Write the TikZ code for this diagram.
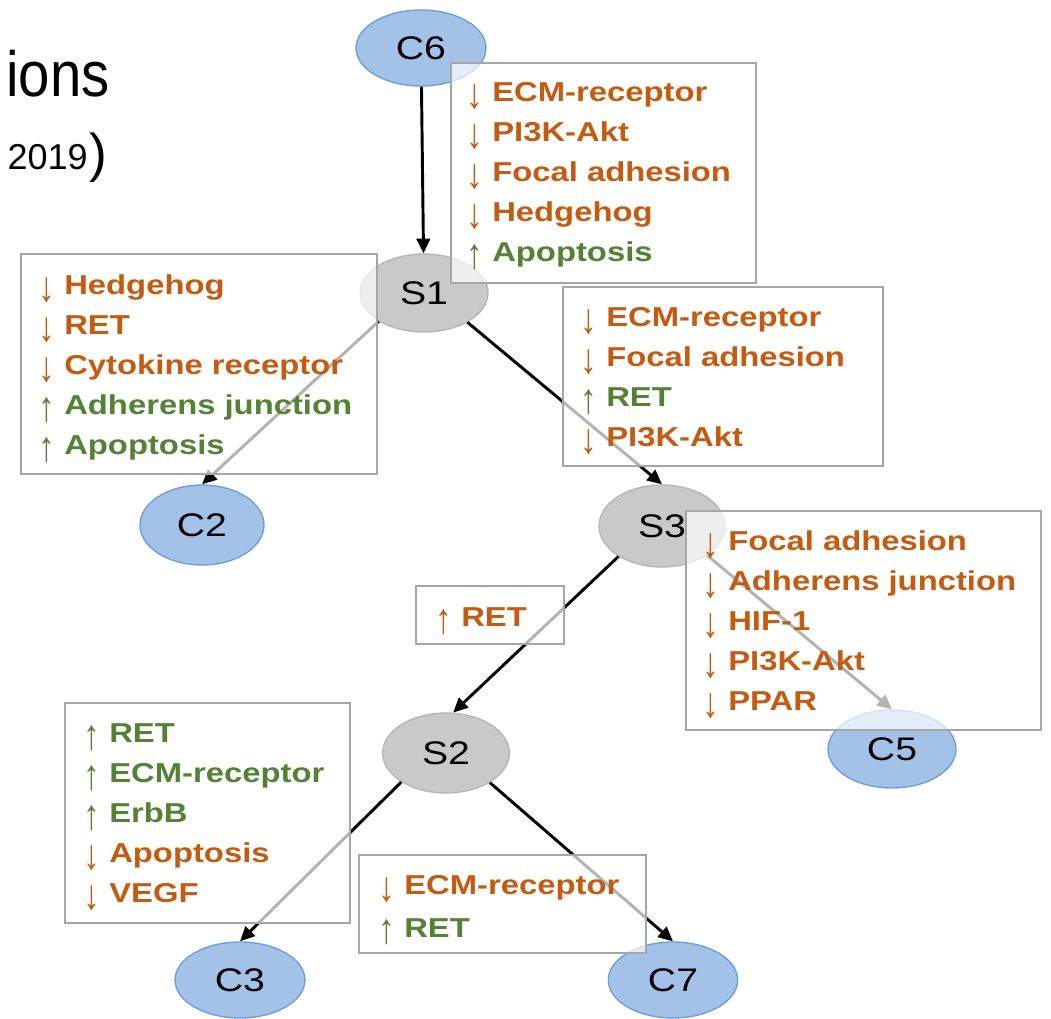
\documentclass[tikz,border=0pt]{standalone}
\usepackage{fontspec}
\usepackage{graphicx}
\setmainfont{Liberation Sans}
\newfontfamily\stfont{Liberation Sans}[FakeStretch=1.2]
\newfontfamily\narrowfont{Liberation Sans}[FakeStretch=0.88]
\usetikzlibrary{shapes.geometric,arrows.meta}
\definecolor{orng}{HTML}{C55A11}
\definecolor{grn}{HTML}{548235}
\definecolor{bluefill}{HTML}{A4C2E8}
\definecolor{blueline}{HTML}{6A9ED8}
\definecolor{grayfill}{HTML}{C9C9C9}
\definecolor{grayline}{HTML}{B5B5B5}
\definecolor{boxline}{HTML}{A6A6A6}
\tikzset{
 ell/.style={ellipse, inner sep=0pt, font=\stfont\fontsize{24.5}{28}\selectfont},
 cnode/.style={ell, fill=bluefill, draw=blueline, line width=1pt},
 snode/.style={ell, fill=grayfill, draw=grayline, line width=1pt},
 conn/.style={line width=2.2pt, -{Triangle[length=11pt,width=10pt]}},
 infobox/.style={rectangle, draw=boxline, line width=1.6pt, fill=white, fill opacity=0.7, inner sep=0pt, anchor=north west},
 lbl/.style={anchor=base west, inner sep=0pt, font=\stfont\fontsize{20.5}{24}\selectfont\bfseries},
 dn/.style={lbl, text=orng},
 up/.style={lbl, text=grn},
}
\newcommand{\arrowglyph}[1]{\makebox[19.5pt][l]{\raisebox{-5pt}{\scalebox{0.95}[1.45]{\fontsize{22}{24}\selectfont\mdseries\char"#1}}}}
\newcommand{\dar}{\arrowglyph{2193}}
\newcommand{\uar}{\arrowglyph{2191}}
\begin{document}
\begin{tikzpicture}[x=0.75pt,y=-0.75pt]
\clip (0,0) rectangle (1051,1019);
\useasboundingbox (0,0) rectangle (1051,1019);
% title fragments
\node[anchor=base east, inner sep=0pt, font=\narrowfont\fontsize{48}{50}\selectfont] (title) at (110,97) {ions};
\node[anchor=base east, inner sep=0pt, font=\fontsize{27}{30}\selectfont] (year) at (88,170) {2019};
\node[anchor=base east, inner sep=0pt, font=\fontsize{40}{44}\selectfont] (paren) at (108,172) {)};
% ellipses
\node[cnode, minimum width=97.5pt, minimum height=57pt] (C6) at (421,48) {C6};
\node[snode, minimum width=96pt, minimum height=58.5pt] (S1) at (424,293) {S1};
\node[cnode, minimum width=93pt, minimum height=60pt] (C2) at (202,525) {C2};
\node[snode, minimum width=94.5pt, minimum height=61.5pt] (S3) at (662,526) {S3};
\node[cnode, minimum width=96pt, minimum height=58.5pt] (C5) at (892,749) {C5};
\node[snode, minimum width=95pt, minimum height=60pt] (S2) at (446,753) {S2};
\node[cnode, minimum width=97.5pt, minimum height=57pt] (C3) at (240,980) {C3};
\node[cnode, minimum width=97pt, minimum height=57pt] (C7) at (673,980) {C7};
% connectors
\draw[conn] (C6) -- (S1);
\draw[conn] (S1.212) -- (C2.north);
\draw[conn] (S1.326) -- (S3.north);
\draw[conn] (S3.215) -- (S2.80);
\draw[conn] (S3.327) -- (C5.north);
\draw[conn] (S2.213) -- (C3.north);
\draw[conn] (S2.326) -- (C7.north);
% boxes
\node[infobox, minimum width=228.75pt, minimum height=165pt] (B1) at (450,62) {};
\node[infobox, minimum width=267pt, minimum height=165pt] (B2) at (20,253) {};
\node[infobox, minimum width=240pt, minimum height=134.25pt] (B3) at (562,286) {};
\node[infobox, minimum width=111pt, minimum height=43.5pt] (B4) at (415,585) {};
\node[infobox, minimum width=266.25pt, minimum height=164.25pt] (B5) at (685,510) {};
\node[infobox, minimum width=213.75pt, minimum height=165pt] (B6) at (64,702) {};
\node[infobox, minimum width=215.25pt, minimum height=73.5pt] (B7) at (358,854) {};
% box 1
\node[dn] (b1a) at (466,102) {\dar ECM-receptor};
\node[dn] (b1b) at (466,142) {\dar PI3K-Akt};
\node[dn] (b1c) at (466,182) {\dar Focal adhesion};
\node[dn] (b1d) at (466,222) {\dar Hedgehog};
\node[up] (b1e) at (466,262) {\uar Apoptosis};
% box 2
\node[dn] (b2a) at (38,295) {\dar Hedgehog};
\node[dn] (b2b) at (38,335) {\dar RET};
\node[dn] (b2c) at (38,375) {\dar Cytokine receptor};
\node[up] (b2d) at (38,415) {\uar Adherens junction};
\node[up] (b2e) at (38,455) {\uar Apoptosis};
% box 3
\node[dn] (b3a) at (580,327) {\dar ECM-receptor};
\node[dn] (b3b) at (580,367) {\dar Focal adhesion};
\node[up] (b3c) at (580,407) {\uar RET};
\node[dn] (b3d) at (580,447) {\dar PI3K-Akt};
% box 4
\node[dn] (b4a) at (435,627) {\uar RET};
% box 5
\node[dn] (b5a) at (702,551) {\dar Focal adhesion};
\node[dn] (b5b) at (702,591) {\dar Adherens junction};
\node[dn] (b5c) at (702,631) {\dar HIF-1};
\node[dn] (b5d) at (702,671) {\dar PI3K-Akt};
\node[dn] (b5e) at (702,711) {\dar PPAR};
% box 6
\node[up] (b6a) at (83,743) {\uar RET};
\node[up] (b6b) at (83,783) {\uar ECM-receptor};
\node[up] (b6c) at (83,823) {\uar ErbB};
\node[dn] (b6d) at (83,863) {\dar Apoptosis};
\node[dn] (b6e) at (83,903) {\dar VEGF};
% box 7
\node[dn] (b7a) at (378,895) {\dar ECM-receptor};
\node[up] (b7b) at (378,937) {\uar RET};
\end{tikzpicture}
\end{document}
